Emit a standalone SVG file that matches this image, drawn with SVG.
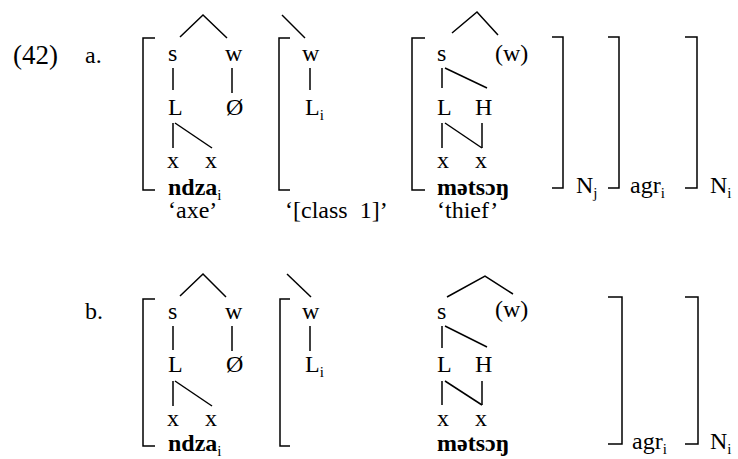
<svg xmlns="http://www.w3.org/2000/svg" width="738" height="459" viewBox="0 0 738 459">
<style>
text{font-family:"Liberation Serif","Times New Roman",serif;font-size:24px;fill:#000;white-space:pre}
.b{font-weight:bold}
.big{font-size:27px}
.sub{font-size:15px;font-weight:normal}
.ln{fill:none;stroke:#000;stroke-width:1.5}
</style>
<rect width="738" height="459" fill="#fff"/>
<g id="labels">
<text x="13" y="64" class="big">(42)</text>
<text x="85" y="63">a.</text>
<text x="85" y="319">b.</text>
</g>
<g id="connectors" class="ln">
<path d="M155,38 H143 V190 H155"/>
<path d="M290,38 H279 V190 H290"/>
<path d="M425,38 H412 V190 H425"/>
<path d="M552,37 H563 V188 H552"/>
<path d="M608,37 H619 V188 H608"/>
<path d="M685,37 H697 V188 H685"/>
<path d="M180,37 L203,15 L227,38"/>
<path d="M173,68 V90"/>
<path d="M232,68 V93"/>
<path d="M173,123 V148"/>
<path d="M175,123 L212,148"/>
<path d="M282,15 L305,38"/>
<path d="M310,68 V90"/>
<path d="M452,33 L477,12 L498,35"/>
<path d="M442,68 V88"/>
<path d="M445,68 L487,88"/>
<path d="M442,123 V148"/>
<path d="M445,123 L482,148"/>
<path d="M482,123 V148"/>
<path d="M155,299 H143 V446 H155"/>
<path d="M290,299 H280 V446 H290"/>
<path d="M608,297 H622 V444 H608"/>
<path d="M685,297 H698 V444 H685"/>
<path d="M180,296 L203,274 L226,297"/>
<path d="M173,326 V350"/>
<path d="M232,326 V351"/>
<path d="M173,381 V406"/>
<path d="M175,381 L212,406"/>
<path d="M287,274 L311,297"/>
<path d="M310,326 V351"/>
<path d="M447,297 L485,276 L513,294"/>
<path d="M442,326 V348"/>
<path d="M445,326 L487,347"/>
<path d="M442,381 V405"/>
<path d="M445,381 L482,405"/>
<path d="M482,381 V405"/>
</g>
<g id="a-word1">
<text x="168" y="61">s</text>
<text x="225" y="61">w</text>
<text x="168" y="115">L</text>
<text x="226" y="115">Ø</text>
<text x="167" y="168">x</text>
<text x="205" y="168">x</text>
<text x="168" y="195" class="b">ndza<tspan class="sub" dy="5">i</tspan></text>
<text x="168" y="218">‘axe’</text>
</g>
<g id="a-word2">
<text x="302" y="61">w</text>
<text x="305" y="115">L<tspan class="sub" dy="5">i</tspan></text>
<text x="285" y="218">‘[class  1]’</text>
</g>
<g id="a-word3">
<text x="437" y="61">s</text>
<text x="495" y="61">(w)</text>
<text x="437" y="115">L</text>
<text x="475" y="115">H</text>
<text x="437" y="168">x</text>
<text x="475" y="168">x</text>
<text x="437" y="195" class="b">mətsɔŋ</text>
<text x="437" y="218">‘thief’</text>
</g>
<g id="a-labels">
<text x="576" y="193">N<tspan class="sub" dy="5">j</tspan></text>
<text x="630" y="193">agr<tspan class="sub" dy="5">i</tspan></text>
<text x="710" y="193">N<tspan class="sub" dy="5">i</tspan></text>
</g>
<g id="b-word1">
<text x="168" y="319">s</text>
<text x="225" y="319">w</text>
<text x="168" y="372">L</text>
<text x="226" y="372">Ø</text>
<text x="167" y="426">x</text>
<text x="205" y="426">x</text>
<text x="168" y="451" class="b">ndza<tspan class="sub" dy="5">i</tspan></text>
</g>
<g id="b-word2">
<text x="302" y="319">w</text>
<text x="305" y="372">L<tspan class="sub" dy="5">i</tspan></text>
</g>
<g id="b-word3">
<text x="437" y="319">s</text>
<text x="495" y="317">(w)</text>
<text x="437" y="372">L</text>
<text x="475" y="372">H</text>
<text x="437" y="426">x</text>
<text x="475" y="426">x</text>
<text x="437" y="451" class="b">mətsɔŋ</text>
</g>
<g id="b-labels">
<text x="632" y="449">agr<tspan class="sub" dy="5">i</tspan></text>
<text x="710" y="449">N<tspan class="sub" dy="5">i</tspan></text>
</g>
</svg>
